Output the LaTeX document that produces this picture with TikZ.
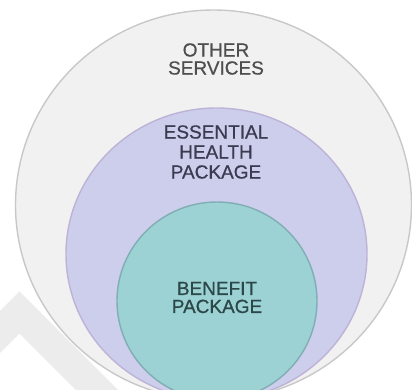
\documentclass[tikz,border=0pt]{standalone}
\usepackage{fontspec}
\setmainfont{Liberation Sans}
\newfontfamily\lblfont[FakeBold=0.6]{Liberation Sans}
\definecolor{outerfill}{HTML}{F1F1F1}
\definecolor{outerline}{HTML}{C8C8C8}
\definecolor{midfill}{HTML}{CDCDEC}
\definecolor{midline}{HTML}{BDB3D6}
\definecolor{innerfill}{HTML}{9CD2D3}
\definecolor{innerline}{HTML}{80AEB4}
\definecolor{wmgray}{HTML}{ECECEC}
\definecolor{txtouter}{HTML}{4E4E4E}
\definecolor{txtmid}{HTML}{3A3A50}
\definecolor{txtinner}{HTML}{2C4749}
\tikzset{
  ring/.style={line width=1.4pt},
  lbl/.style={align=center, inner sep=0pt, font=\lblfont\fontsize{19}{19}\selectfont},
  wm/.style={line width=30pt, line join=miter}
}
\begin{document}
\begin{tikzpicture}[x=1pt,y=-1pt]
\useasboundingbox (0,0) rectangle (412,389);
\clip (0,0) rectangle (412,389);
% watermark on white background
\draw[wm, wmgray] (-40,372) -- (19.5,312.5) -- (130,423);
% outer circle
\draw[ring, fill=outerfill, draw=outerline] (213.5,205) ellipse [x radius=198, y radius=195];
% watermark over outer circle
\begin{scope}
  \clip (213.5,205) ellipse [x radius=197, y radius=194];
  \draw[wm, white, opacity=0.7] (-40,372) -- (19.5,312.5) -- (130,423);
\end{scope}
% middle circle
\draw[ring, fill=midfill, draw=midline] (216.5,254) ellipse [x radius=150.5, y radius=146];
% inner circle
\draw[ring, fill=innerfill, draw=innerline] (217,301) ellipse [x radius=100, y radius=99];
% labels
\node[lbl, text=txtouter] (other) at (216,59) {OTHER\\[-1pt]SERVICES};
\node[lbl, text=txtmid] (essential) at (216,152) {ESSENTIAL\\[1pt]HEALTH\\[1pt]PACKAGE};
\node[lbl, text=txtinner] (benefit) at (217,297.5) {BENEFIT\\[-1pt]PACKAGE};
\end{tikzpicture}
\end{document}
